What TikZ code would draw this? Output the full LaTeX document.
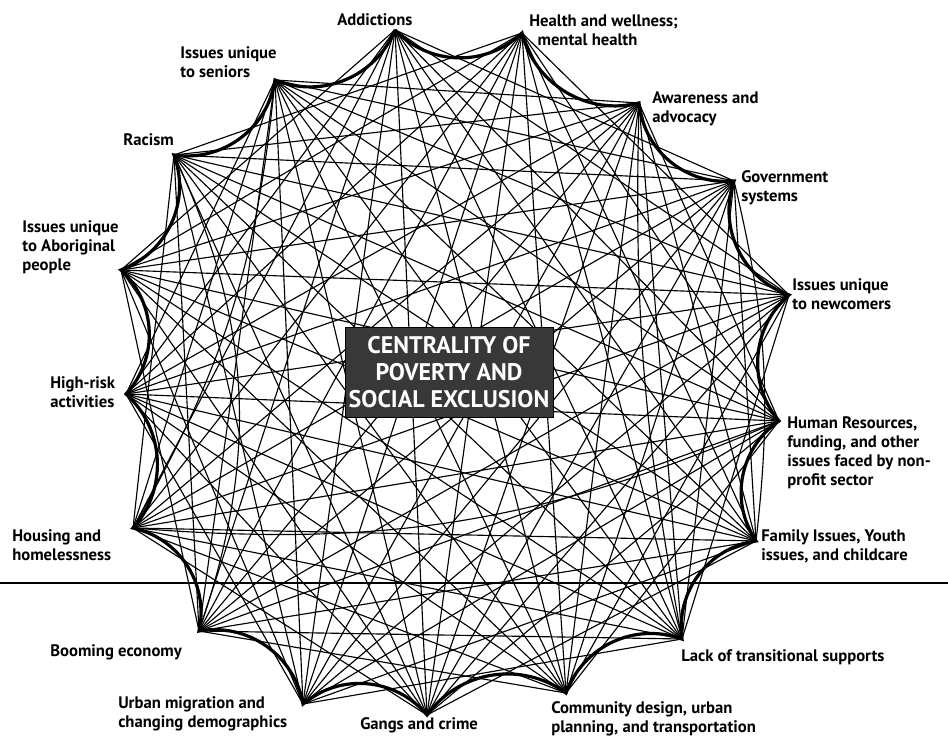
\documentclass[tikz,border=0pt]{standalone}
\usepackage{fontspec}
\setmainfont{PT Sans}
\begin{document}
\begin{tikzpicture}[
        x=0.75pt, y=0.75pt,
        lbl/.style={anchor=north west, inner sep=0pt, align=left, font=\fontsize{12.5}{14.25}\selectfont\bfseries},
        core/.style={draw=black, fill=black!78, text=white, minimum width=156pt, minimum height=67.5pt, align=center, inner sep=1pt, font=\fontsize{18}{20}\selectfont\bfseries},
        chord/.style={line width=0.85pt},
        rim/.style={line width=2.4pt},
        rule/.style={line width=0.8pt}
    ]
    \useasboundingbox (0,0) rectangle (948,742);

    % --- Hubs ---
    \coordinate (add)  at (395,712);
    \coordinate (hlt)  at (522,709);
    \coordinate (awa)  at (639,639);
    \coordinate (gov)  at (734,561);
    \coordinate (new)  at (789,447);
    \coordinate (hr)   at (779,321);
    \coordinate (fam)  at (756,201);
    \coordinate (lack) at (682,103);
    \coordinate (com)  at (566,49);
    \coordinate (gang) at (427,27);
    \coordinate (urb)  at (303,38);
    \coordinate (boom) at (199,111);
    \coordinate (hous) at (133,214);
    \coordinate (risk) at (126,348);
    \coordinate (abo)  at (121,472);
    \coordinate (rac)  at (174,587);
    \coordinate (sen)  at (275,662);

    % --- Page rule ---
    \coordinate (ruleL) at (0,159);
    \coordinate (ruleR) at (948,159);
    \draw[rule] (ruleL) -- (ruleR);

    % --- Links ---
    \foreach \a/\i in {add/1,hlt/2,awa/3,gov/4,new/5,hr/6,fam/7,lack/8,com/9,gang/10,urb/11,boom/12,hous/13,risk/14,abo/15,rac/16,sen/17}{
        \foreach \b/\j in {add/1,hlt/2,awa/3,gov/4,new/5,hr/6,fam/7,lack/8,com/9,gang/10,urb/11,boom/12,hous/13,risk/14,abo/15,rac/16,sen/17}{
            \pgfmathtruncatemacro{\d}{\j-\i}
            \ifnum\d>2 \ifnum\d<15 \draw[chord] (\a) -- (\b); \fi\fi
        }
    }
    % a few bowed links
    \draw[chord] (rac) to[bend left=22] (boom);
    \draw[chord] (awa) to[bend right=6] (lack);
    \draw[chord] (hous) to[bend right=14] (hr);
    \draw[chord] (sen) to[bend left=12] (hous);
    \draw[chord] (gov) to[bend left=10] (fam);

    % --- Rim ---
    \draw[rim] (add) to[bend right=45] (hlt) to[bend right=45] (awa)
        to[bend right=45] (gov) to[bend right=45] (new) to[bend right=45] (hr)
        to[bend right=45] (fam) to[bend right=45] (lack) to[bend right=45] (com)
        to[bend right=45] (gang) to[bend right=45] (urb) to[bend right=45] (boom)
        to[bend right=45] (hous) to[bend right=45] (risk) to[bend right=45] (abo)
        to[bend right=45] (rac) to[bend right=45] (sen) to[bend right=45] (add);

    % --- Centre ---
    \node[core] (core) at (449,370) {CENTRALITY OF\\POVERTY AND\\SOCIAL EXCLUSION};

    % --- Labels ---
    \node[lbl] (addL)  at (337,729) {Addictions};
    \node[lbl] (hltL)  at (529,727) {Health and wellness;\\\hspace*{0.5em}mental health};
    \node[lbl] (awaL)  at (652,651) {Awareness and\\advocacy};
    \node[lbl] (govL)  at (741,572) {Government\\systems};
    \node[lbl] (newL)  at (792,464) {Issues unique\\to newcomers};
    \node[lbl] (hrL)   at (787,326) {Human Resources,\\funding, and other\\issues faced by non-\\profit sector};
    \node[lbl] (famL)  at (761,213) {Family Issues, Youth\\issues, and childcare};
    \node[lbl] (lackL) at (681,93)  {Lack of transitional supports};
    \node[lbl] (comL)  at (551,41)  {Community design, urban\\planning, and transportation};
    \node[lbl] (gangL) at (360,25)  {Gangs and crime};
    \node[lbl] (urbL)  at (118,46)  {Urban migration and\\changing demographics};
    \node[lbl] (boomL) at (50,98)   {Booming economy};
    \node[lbl] (housL) at (12,213)  {Housing and\\homelessness};
    \node[lbl] (riskL) at (50,366)  {High-risk\\activities};
    \node[lbl] (aboL)  at (22,522)  {Issues unique\\to Aboriginal\\people};
    \node[lbl] (racL)  at (123,609) {Racism};
    \node[lbl] (senL)  at (180,696) {Issues unique\\to seniors};

\end{tikzpicture}
\end{document}
